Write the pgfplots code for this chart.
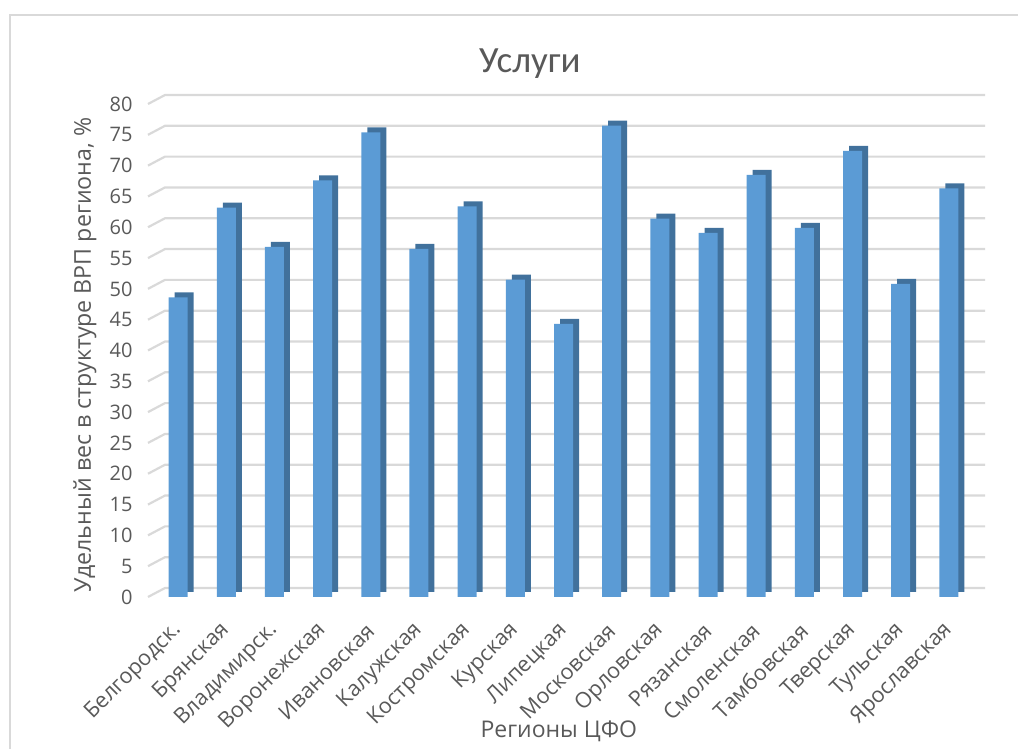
\documentclass[border=0pt]{standalone}
\usepackage{pgfplots}
\pgfplotsset{compat=1.18}
\usepackage{fontspec}
\setmainfont{Open Sans}
\newfontfamily\titlefont{Carlito}
\definecolor{barfront}{HTML}{5B9BD5}
\definecolor{barside}{HTML}{41719C}
\definecolor{gridc}{HTML}{D9D9D9}
\definecolor{txt}{HTML}{595959}

\pgfplotstableread{
x val
0  48.6
1  63.2
2  56.8
3  67.6
4  75.4
5  56.5
6  63.4
7  51.5
8  44.3
9  76.5
10 61.4
11 59.1
12 68.5
13 59.9
14 72.4
15 50.8
16 66.3
}\uslugi

\begin{document}
\begin{tikzpicture}
  \begin{axis}[
    name=ax,
    at={(0,0)}, anchor=south west,
    scale only axis,
    width=412.5pt, height=246.5pt,
    xmin=-0.625, xmax=16.5,
    ymin=0, ymax=80,
    clip=false,
    axis line style={draw=none},
    major tick length=0pt,
    ytick={0,5,...,80},
    xtick={0,...,16},
    xticklabels={Белгородск., Брянская, Владимирск., Воронежская, Ивановская,
      Калужская, Костромская, Курская, Липецкая, Московская, Орловская,
      Рязанская, Смоленская, Тамбовская, Тверская, Тульская, Ярославская},
    /pgf/number format/assume math mode=true,
    yticklabel style={anchor=east, inner sep=0pt, xshift=-7.5pt,
      text=txt, font=\fontsize{10}{12}\selectfont},
    xticklabel style={anchor=east, inner sep=0pt, xshift=0pt, yshift=-15pt,
      rotate=45, text=txt, font=\fontsize{10.8}{13}\selectfont},
    title={\titlefont Услуги},
    title style={at={(axis description cs:0.463,1.058)}, anchor=center,
      yshift=0pt, text=txt, font=\fontsize{18.5}{22}\selectfont},
    xlabel={Регионы ЦФО},
    xlabel style={at={(axis description cs:0.498,-0.272)}, anchor=center,
      text=txt, font=\fontsize{11.5}{14}\selectfont},
    ylabel={Удельный вес в структуре ВРП региона, \%},
    ylabel style={at={(axis description cs:-0.0764,0.491)}, anchor=center,
      text=txt, font=\fontsize{11.6}{14}\selectfont},
    ybar, bar width=9.5pt,
  ]
    % back wall grid with short diagonals
    \pgfplotsinvokeforeach{0,5,...,80}{
      \draw[gridc, line width=1.1pt]
        (axis cs:-0.625,#1) -- ++(8.5pt,4.5pt)
        -- ([xshift=6pt,yshift=4.5pt]axis cs:16.5,#1);
    }
    % depth of the bars
    \addplot[fill=barside, draw=none, bar shift=3pt, yshift=2.5pt]
      table[x=x, y=val] {\uslugi};
    % front of the bars
    \addplot[fill=barfront, draw=none, bar shift=0pt]
      table[x=x, y=val] {\uslugi};
  \end{axis}
  \path[use as bounding box] ([shift={(-74pt,-75pt)}]ax.south west)
    rectangle ([shift={(435pt,298.5pt)}]ax.south west);
  \draw[gridc, line width=0.8pt] ([shift={(-69pt,-80pt)}]ax.south west)
    -- ([shift={(-69pt,291pt)}]ax.south west)
    -- ([shift={(440pt,291pt)}]ax.south west);
\end{tikzpicture}
\end{document}
